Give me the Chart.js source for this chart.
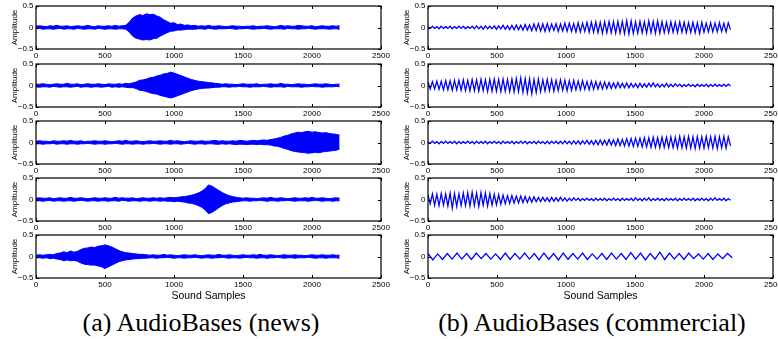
<!DOCTYPE html>
<html><head><meta charset="utf-8">
<script src="https://cdn.jsdelivr.net/npm/chart.js@4.4.0/dist/chart.umd.min.js"></script>
<style>
html,body{margin:0;padding:0;background:#fff;overflow:hidden;width:778px;height:339px;position:relative}
.cap{position:absolute;font-family:"Liberation Serif","Times New Roman",serif;font-size:26px;line-height:30px;color:#000;white-space:nowrap;transform:translateX(-50%)}
</style></head><body>
<div class="cap" style="left:201px;top:308px">(a) AudioBases (news)</div>
<div class="cap" style="left:592px;top:308px">(b) AudioBases (commercial)</div>
<script>
// ---------- DATA ----------
const xTickValues = [0, 500, 1000, 1500, 2000, 2500];
const yTickValues = [-0.5, 0, 0.5];
const xLabel = 'Sound Samples';
const yLabel = 'Amplitude';

// News (left column): upper / lower envelope of the waveform, one value every newsStep samples (0..2200)
const newsStep = 25;
const news1Upper = [0.03,0.04,0.03,0.02,0.04,0.03,0.05,0.03,0.03,0.04,0.02,0.03,0.04,0.03,0.03,0.05,0.03,0.02,0.04,0.03,0.03,0.04,0.03,0.05,0.03,0.04,
 0.05,0.12,0.22,0.27,0.3,0.28,0.32,0.3,0.31,0.27,0.24,0.18,0.14,0.1,0.11,0.07,0.08,0.05,0.06,0.04,0.05,
 0.03,0.04,0.03,0.05,0.03,0.03,0.04,0.03,0.02,0.03,0.04,0.03,0.03,0.02,0.03,0.03,0.04,0.02,0.03,0.03,0.04,0.03,0.02,0.03,0.05,0.03,0.04,0.03,0.03,0.05,0.04,0.03,0.03,0.04,0.02,0.03,0.04,0.03,0.03,0.04,0.03,0.04];
const news1Lower = [-0.03,-0.02,-0.04,-0.03,-0.03,-0.04,-0.03,-0.02,-0.04,-0.03,-0.03,-0.04,-0.02,-0.03,-0.04,-0.03,-0.03,-0.04,-0.02,-0.03,-0.04,-0.03,-0.03,-0.04,-0.03,-0.03,
 -0.04,-0.1,-0.2,-0.25,-0.27,-0.29,-0.28,-0.29,-0.26,-0.25,-0.2,-0.16,-0.12,-0.09,-0.08,-0.06,-0.06,-0.05,-0.04,-0.04,-0.04,
 -0.03,-0.03,-0.04,-0.02,-0.03,-0.04,-0.03,-0.03,-0.03,-0.02,-0.03,-0.04,-0.03,-0.03,-0.02,-0.03,-0.04,-0.03,-0.03,-0.02,-0.03,-0.04,-0.03,-0.03,-0.03,-0.04,-0.02,-0.03,-0.03,-0.04,-0.03,-0.03,-0.02,-0.03,-0.04,-0.03,-0.03,-0.03,-0.04,-0.03,-0.03,-0.04];
const news2Upper = [0.03,0.03,0.04,0.03,0.02,0.03,0.04,0.03,0.03,0.05,0.03,0.03,0.04,0.02,0.03,0.04,0.03,0.03,0.04,0.03,0.02,0.04,0.03,0.03,0.04,0.03,0.05,0.04,0.06,
 0.08,0.12,0.13,0.15,0.18,0.19,0.22,0.24,0.27,0.28,0.31,0.29,0.26,0.23,0.2,0.17,0.14,0.12,0.1,0.09,0.08,0.07,0.06,0.05,
 0.04,0.03,0.04,0.03,0.03,0.02,0.03,0.04,0.03,0.03,0.03,0.04,0.02,0.03,0.03,0.04,0.03,0.03,0.05,0.03,0.03,0.02,0.03,0.04,0.03,0.03,0.02,0.03,0.04,0.03,0.03,0.04,0.03,0.02,0.03,0.03];
const news2Lower = [-0.03,-0.04,-0.03,-0.03,-0.04,-0.02,-0.03,-0.04,-0.03,-0.03,-0.04,-0.03,-0.02,-0.04,-0.03,-0.03,-0.04,-0.03,-0.03,-0.04,-0.03,-0.02,-0.04,-0.03,-0.04,-0.03,-0.04,-0.05,-0.05,
 -0.07,-0.11,-0.12,-0.14,-0.17,-0.19,-0.2,-0.23,-0.25,-0.27,-0.29,-0.27,-0.24,-0.21,-0.18,-0.15,-0.12,-0.1,-0.08,-0.07,-0.06,-0.06,-0.05,-0.04,
 -0.04,-0.03,-0.03,-0.04,-0.03,-0.03,-0.02,-0.03,-0.03,-0.04,-0.03,-0.03,-0.03,-0.02,-0.03,-0.04,-0.03,-0.03,-0.03,-0.04,-0.02,-0.03,-0.03,-0.03,-0.04,-0.03,-0.03,-0.02,-0.03,-0.03,-0.04,-0.03,-0.03,-0.03,-0.02,-0.03];
const news3Upper = [0.03,0.04,0.03,0.03,0.02,0.04,0.03,0.03,0.04,0.03,0.05,0.03,0.03,0.04,0.02,0.03,0.03,0.04,0.03,0.03,0.04,0.03,0.02,0.03,0.04,0.03,0.05,0.03,0.03,0.04,0.03,0.02,0.03,0.04,0.03,0.03,0.04,0.03,0.03,0.05,0.03,0.04,0.03,0.02,0.03,0.04,0.03,0.03,0.04,0.03,0.03,0.04,0.05,0.03,0.04,0.03,0.03,0.04,0.03,0.05,0.04,0.03,0.04,0.05,0.04,0.05,0.06,0.05,
 0.07,0.08,0.1,0.12,0.15,0.17,0.2,0.22,0.24,0.23,0.25,0.26,0.24,0.25,0.23,0.22,0.23,0.21,0.2,0.19,0.17];
const news3Lower = [-0.03,-0.03,-0.04,-0.03,-0.03,-0.02,-0.04,-0.03,-0.03,-0.04,-0.03,-0.03,-0.04,-0.03,-0.03,-0.02,-0.03,-0.04,-0.03,-0.03,-0.04,-0.03,-0.03,-0.02,-0.03,-0.04,-0.03,-0.03,-0.04,-0.03,-0.03,-0.04,-0.03,-0.03,-0.02,-0.03,-0.04,-0.03,-0.03,-0.04,-0.03,-0.03,-0.04,-0.03,-0.02,-0.03,-0.04,-0.03,-0.03,-0.04,-0.03,-0.03,-0.04,-0.04,-0.03,-0.04,-0.03,-0.04,-0.05,-0.04,-0.04,-0.05,-0.04,-0.04,-0.05,-0.04,-0.05,-0.05,
 -0.06,-0.08,-0.09,-0.11,-0.14,-0.16,-0.19,-0.21,-0.22,-0.23,-0.24,-0.25,-0.24,-0.23,-0.24,-0.22,-0.21,-0.2,-0.19,-0.18,-0.15];
const news4Upper = [0.03,0.04,0.03,0.03,0.04,0.02,0.03,0.04,0.03,0.03,0.05,0.03,0.03,0.04,0.03,0.02,0.03,0.04,0.03,0.03,0.04,0.03,0.03,0.05,0.03,0.04,0.03,0.03,0.04,0.02,0.03,0.04,0.03,0.03,0.04,0.03,0.04,0.03,0.04,0.05,0.04,0.05,
 0.06,0.07,0.08,0.1,0.12,0.15,0.19,0.25,0.34,0.31,0.26,0.21,0.16,0.12,0.09,0.07,0.05,
 0.04,0.03,0.04,0.03,0.03,0.02,0.03,0.04,0.03,0.05,0.03,0.03,0.04,0.03,0.02,0.03,0.04,0.03,0.03,0.04,0.03,0.05,0.03,0.03,0.04,0.03,0.02,0.03,0.04,0.03];
const news4Lower = [-0.03,-0.03,-0.04,-0.03,-0.02,-0.04,-0.03,-0.03,-0.04,-0.03,-0.03,-0.04,-0.03,-0.02,-0.03,-0.04,-0.03,-0.03,-0.04,-0.03,-0.03,-0.04,-0.03,-0.03,-0.04,-0.02,-0.03,-0.04,-0.03,-0.03,-0.04,-0.03,-0.03,-0.04,-0.03,-0.03,-0.04,-0.03,-0.04,-0.04,-0.05,-0.04,
 -0.05,-0.06,-0.08,-0.09,-0.11,-0.14,-0.18,-0.24,-0.33,-0.3,-0.25,-0.19,-0.14,-0.1,-0.08,-0.06,-0.05,
 -0.04,-0.03,-0.03,-0.04,-0.03,-0.03,-0.02,-0.03,-0.04,-0.03,-0.03,-0.04,-0.03,-0.03,-0.02,-0.03,-0.04,-0.03,-0.03,-0.03,-0.04,-0.03,-0.02,-0.03,-0.04,-0.03,-0.03,-0.04,-0.03,-0.03];
const news5Upper = [0.03,0.04,0.03,0.04,
 0.05,0.04,0.07,0.08,0.11,0.09,0.13,0.1,0.12,0.16,0.19,0.2,0.22,0.21,0.24,0.25,0.27,0.25,0.22,0.18,0.14,0.11,0.09,0.08,0.07,0.06,0.05,0.05,0.04,
 0.03,0.04,0.03,0.03,0.05,0.03,0.04,0.03,0.02,0.03,0.04,0.03,0.03,0.04,0.03,0.02,0.03,0.04,0.03,0.03,0.05,0.03,0.03,0.04,0.03,0.02,0.03,0.04,0.03,0.03,0.04,0.03,0.05,0.03,0.03,0.04,0.03,0.02,0.03,0.04,0.03,0.03,0.04,0.03,0.03,0.02,0.03,0.04,0.03,0.03,0.04,0.03,0.03,0.04,0.03,0.03];
const news5Lower = [-0.03,-0.03,-0.04,-0.03,
 -0.05,-0.04,-0.06,-0.07,-0.1,-0.08,-0.1,-0.09,-0.11,-0.15,-0.18,-0.19,-0.2,-0.2,-0.22,-0.24,-0.28,-0.24,-0.2,-0.16,-0.12,-0.1,-0.08,-0.07,-0.06,-0.05,-0.05,-0.04,-0.04,
 -0.03,-0.03,-0.04,-0.03,-0.03,-0.02,-0.03,-0.04,-0.03,-0.03,-0.04,-0.03,-0.03,-0.02,-0.03,-0.04,-0.03,-0.03,-0.04,-0.03,-0.03,-0.02,-0.03,-0.04,-0.03,-0.03,-0.04,-0.03,-0.02,-0.03,-0.03,-0.04,-0.03,-0.03,-0.04,-0.03,-0.03,-0.02,-0.03,-0.04,-0.03,-0.03,-0.04,-0.03,-0.03,-0.03,-0.02,-0.03,-0.04,-0.03,-0.03,-0.04,-0.03,-0.03,-0.03,-0.04];

// Commercial (right column): successive peaks / troughs, one every half period (in samples)
const commercialHalfPeriod = [16, 16, 16, 16, 35];
const comm1 = [0.02,-0.02,0.03,-0.02,0.02,-0.03,0.03,-0.02,0.02,-0.02,0.03,-0.03,0.02,-0.02,0.03,-0.02,0.03,-0.03,0.02,-0.02,
 0.03,-0.03,0.04,-0.03,0.03,-0.04,0.04,-0.03,0.03,-0.03,0.04,-0.04,0.04,-0.03,0.05,-0.04,0.04,-0.05,
 0.05,-0.05,0.06,-0.05,0.05,-0.06,0.07,-0.06,0.06,-0.07,
 0.08,-0.07,0.09,-0.08,0.08,-0.09,0.09,-0.08,0.08,-0.07,0.09,-0.09,0.08,-0.08,0.1,-0.09,
 0.1,-0.09,0.09,-0.1,0.11,-0.1,0.1,-0.09,0.12,-0.11,
 0.12,-0.11,0.13,-0.12,0.12,-0.13,0.13,-0.12,0.14,-0.12,0.13,-0.13,0.14,-0.13,0.14,-0.14,0.16,-0.15,
 0.15,-0.14,0.13,-0.13,0.14,-0.12,0.13,-0.13,0.15,-0.12,0.14,-0.13,0.15,-0.13,0.13,-0.12,
 0.12,-0.12,0.13,-0.11,0.12,-0.12,0.13,-0.11,0.12,-0.12,0.11,-0.11,0.12,-0.12,0.11,-0.14,0.12,-0.11,
 0.1,-0.1,0.11,-0.1,0.1,-0.1,0.11,-0.09,0.1,-0.1,0.11,-0.05];
const comm2 = [0.08,-0.08,0.09,-0.08,0.1,-0.09,0.1,-0.1,0.11,-0.1,0.11,-0.11,0.12,-0.1,0.12,-0.11,0.13,-0.12,0.12,-0.12,
 0.14,-0.12,0.13,-0.13,0.14,-0.12,0.13,-0.14,0.14,-0.13,0.15,-0.13,0.14,-0.14,0.15,-0.13,0.14,-0.14,
 0.15,-0.15,0.16,-0.14,0.17,-0.16,0.16,-0.17,0.15,-0.19,0.14,-0.16,0.15,-0.14,
 0.13,-0.13,0.14,-0.12,0.13,-0.13,0.12,-0.12,0.13,-0.11,0.12,-0.12,0.11,-0.11,0.12,-0.1,
 0.1,-0.1,0.11,-0.09,0.09,-0.1,0.1,-0.09,0.09,-0.08,0.08,-0.08,0.08,-0.07,0.07,-0.07,
 0.06,-0.06,0.07,-0.05,0.05,-0.05,0.06,-0.05,0.05,-0.04,0.04,-0.05,0.05,-0.04,0.04,-0.04,0.05,-0.03,
 0.06,-0.03,0.04,-0.04,0.03,-0.03,0.05,-0.03,0.03,-0.03,0.04,-0.02,0.03,-0.03,0.02,-0.02,
 0.03,-0.02,0.02,-0.03,0.03,-0.02,0.02,-0.02,0.03,-0.03,0.02,-0.02,0.03,-0.02,0.02,-0.02,0.03,-0.02,0.03,-0.01];
const comm3 = [0.02,-0.02,0.03,-0.02,0.02,-0.03,0.02,-0.02,0.03,-0.02,0.02,-0.02,0.03,-0.03,0.02,-0.02,0.02,-0.02,0.03,-0.02,
 0.02,-0.03,0.03,-0.02,0.02,-0.02,0.03,-0.03,0.02,-0.02,0.03,-0.02,0.02,-0.03,0.03,-0.02,0.02,-0.02,0.03,-0.03,
 0.02,-0.02,0.03,-0.02,0.03,-0.03,0.02,-0.02,0.03,-0.03,0.03,-0.02,0.02,-0.03,0.03,-0.03,0.03,-0.02,0.03,-0.03,
 0.03,-0.03,0.04,-0.03,0.03,-0.04,0.04,-0.03,0.04,-0.04,0.04,-0.03,0.05,-0.04,0.04,-0.05,
 0.05,-0.05,0.06,-0.05,0.05,-0.06,0.07,-0.06,0.06,-0.07,0.08,-0.07,0.07,-0.08,0.09,-0.08,
 0.09,-0.09,0.1,-0.09,0.1,-0.1,0.11,-0.1,0.11,-0.11,0.12,-0.11,0.11,-0.12,0.12,-0.11,
 0.12,-0.12,0.13,-0.12,0.12,-0.13,0.14,-0.12,0.13,-0.13,0.14,-0.13,0.13,-0.14,0.14,-0.13,
 0.13,-0.13,0.14,-0.12,0.13,-0.13,0.14,-0.14,0.13,-0.12,0.14,-0.13,0.13,-0.08];
const comm4 = [0.12,-0.1,0.13,-0.13,0.12,-0.14,0.14,-0.13,0.13,-0.15,0.15,-0.2,0.14,-0.16,0.13,-0.14,
 0.15,-0.14,0.16,-0.15,0.17,-0.14,0.15,-0.16,0.16,-0.13,0.15,-0.15,0.14,-0.13,
 0.12,-0.12,0.11,-0.11,0.1,-0.1,0.09,-0.09,0.09,-0.08,0.08,-0.08,0.08,-0.07,0.07,-0.07,
 0.06,-0.06,0.06,-0.05,0.05,-0.05,0.05,-0.04,0.04,-0.05,0.05,-0.04,0.04,-0.04,0.05,-0.03,0.04,-0.04,
 0.03,-0.03,0.04,-0.02,0.03,-0.03,0.02,-0.02,0.03,-0.02,0.02,-0.03,0.03,-0.02,0.02,-0.02,0.03,-0.03,0.02,-0.02,0.03,-0.02,0.02,-0.03,0.03,-0.02,0.02,-0.02,
 0.03,-0.03,0.04,-0.02,0.02,-0.03,0.03,-0.02,0.04,-0.03,0.02,-0.02,0.03,-0.02,0.02,-0.03,0.03,-0.02,0.02,-0.02,0.03,-0.03,0.02,-0.02,
 0.03,-0.02,0.02,-0.02,0.03,-0.03,0.02,-0.02,0.03,-0.02,0.02,-0.03,0.03,-0.02,0.04,-0.02,0.02,-0.02,0.03,-0.03,0.02,-0.02];
const comm5 = [0.07,-0.08,0.06,-0.07,0.07,-0.06,0.08,-0.06,0.07,-0.07,0.08,-0.05,0.07,-0.06,0.06,-0.07,0.08,-0.07,0.07,-0.06,
 0.08,-0.06,0.07,-0.08,0.08,-0.07,0.07,-0.08,0.08,-0.07,0.07,-0.06,0.08,-0.07,0.06,-0.06,0.07,-0.07,0.08,-0.06,
 0.07,-0.07,0.09,-0.06,0.08,-0.08,0.07,-0.06,0.1,-0.07,0.08,-0.06,0.07,-0.07,0.08,-0.05,0.06,-0.06,0.07,-0.07,
 0.06,-0.05,0.07,-0.03];

const newsUpper = [news1Upper, news2Upper, news3Upper, news4Upper, news5Upper];
const newsLower = [news1Lower, news2Lower, news3Lower, news4Lower, news5Lower];
const commercial = [comm1, comm2, comm3, comm4, comm5];

// ---------- LAYOUT / STYLE ----------
const BLUE = '#0000ff';
const tickFont = '"Liberation Sans", Arial, Helvetica, sans-serif';
const rowTops = [6, 64, 121, 178, 235];
const plotH = 43;
const topPad = 6;
const xAxisH = 14;
const xAxisHLast = 26;
const cols = [
  {pageLeft: 0, canvasW: 395, yW: 36, padRight: 14},
  {pageLeft: 390, canvasW: 400, yW: 38, padRight: 17}
];

const fmt = v => v < 0 ? '\u2212' + Math.abs(v) : String(v);

// MATLAB-style box, inward ticks and labels, placed with the chart's own scales
const boxPlugin = {
  id: 'matlabBox',
  afterDraw(chart, args, opts) {
    const {ctx, chartArea: a, scales: {x, y}} = chart;
    ctx.save();
    ctx.strokeStyle = '#000';
    ctx.lineWidth = 1.2;
    ctx.strokeRect(a.left, a.top, a.right - a.left, a.bottom - a.top);
    ctx.lineWidth = 1;
    ctx.beginPath();
    xTickValues.forEach(v => {
      const px = Math.round(x.getPixelForValue(v)) + 0.5;
      ctx.moveTo(px, a.bottom); ctx.lineTo(px, a.bottom - 3);
      ctx.moveTo(px, a.top); ctx.lineTo(px, a.top + 3);
    });
    yTickValues.forEach(v => {
      const py = Math.round(y.getPixelForValue(v)) + 0.5;
      ctx.moveTo(a.left, py); ctx.lineTo(a.left + 3, py);
      ctx.moveTo(a.right, py); ctx.lineTo(a.right - 3, py);
    });
    ctx.stroke();
    ctx.fillStyle = '#000';
    ctx.font = '8px ' + tickFont;
    ctx.textBaseline = 'middle';
    ctx.textAlign = 'center';
    xTickValues.forEach(v => ctx.fillText(String(v), x.getPixelForValue(v), a.bottom + 7));
    ctx.textAlign = 'right';
    yTickValues.forEach(v => ctx.fillText(fmt(v), a.left - 2.5, y.getPixelForValue(v)));
    ctx.save();
    ctx.translate(a.left - 21, (a.top + a.bottom) / 2);
    ctx.rotate(-Math.PI / 2);
    ctx.textAlign = 'center';
    ctx.fillText(yLabel, 0, 0);
    ctx.restore();
    if (opts.last) {
      ctx.font = '10.5px ' + tickFont;
      ctx.textAlign = 'center';
      ctx.fillText(xLabel, (a.left + a.right) / 2, a.bottom + 18);
    }
    ctx.restore();
  }
};

function makePanel(col, row, datasets) {
  const c = cols[col];
  const last = row === rowTops.length - 1;
  const xH = last ? xAxisHLast : xAxisH;
  const h = topPad + plotH + xH;
  const cv = document.createElement('canvas');
  cv.width = c.canvasW; cv.height = h;
  cv.style.cssText = `position:absolute;left:${c.pageLeft}px;top:${rowTops[row] - topPad}px;width:${c.canvasW}px;height:${h}px`;
  document.body.appendChild(cv);
  new Chart(cv, {
    type: 'line',
    data: {datasets},
    options: {
      responsive: false, animation: false, devicePixelRatio: 1,
      layout: {padding: {top: topPad, left: 0, right: c.padRight, bottom: 0}},
      plugins: {legend: {display: false}, tooltip: {enabled: false}, matlabBox: {last}},
      elements: {point: {radius: 0}, line: {tension: 0}},
      scales: {
        x: {
          type: 'linear', min: 0, max: 2500,
          afterBuildTicks: s => { s.ticks = xTickValues.map(v => ({value: v})); },
          afterFit: s => { s.height = xH; },
          grid: {display: false}, border: {display: false},
          ticks: {display: false}
        },
        y: {
          type: 'linear', min: -0.5, max: 0.5,
          afterBuildTicks: s => { s.ticks = yTickValues.map(v => ({value: v})); },
          afterFit: s => { s.width = c.yW; },
          grid: {display: false}, border: {display: false},
          ticks: {display: false}
        }
      }
    },
    plugins: [boxPlugin]
  });
}

for (let r = 0; r < 5; r++) {
  const up = newsUpper[r].map((v, i) => ({x: i * newsStep, y: v}));
  const lo = newsLower[r].map((v, i) => ({x: i * newsStep, y: v}));
  makePanel(0, r, [
    {data: up, borderColor: BLUE, backgroundColor: BLUE, borderWidth: 1, fill: '+1'},
    {data: lo, borderColor: BLUE, backgroundColor: BLUE, borderWidth: 1, fill: false}
  ]);
  const cm = commercial[r].map((v, i) => ({x: i * commercialHalfPeriod[r], y: v}));
  makePanel(1, r, [
    {data: cm, borderColor: BLUE, borderWidth: 1.3, fill: false}
  ]);
}
</script>
</body></html>
